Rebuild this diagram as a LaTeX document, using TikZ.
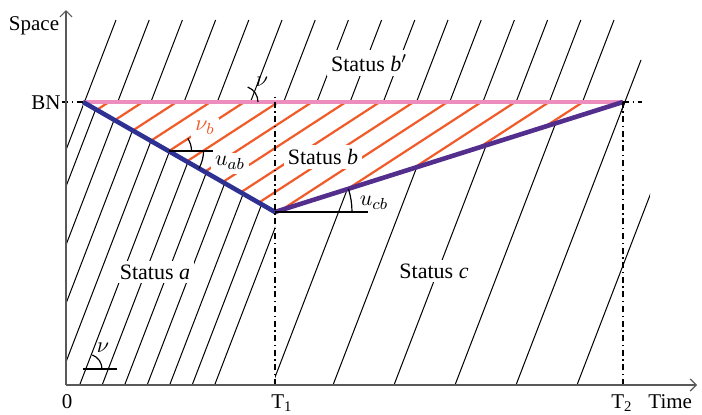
\documentclass[tikz,border=0pt]{standalone}
\usepackage{fontspec}
\setmainfont{Liberation Serif}
\usetikzlibrary{arrows.meta, calc}
\definecolor{bnpink}{RGB}{236,141,190}
\definecolor{shockblue}{RGB}{46,49,146}
\definecolor{shockpurple}{RGB}{84,46,140}
\definecolor{queuered}{RGB}{241,90,41}
\tikzset{
  flowline/.style={black, line width=0.5pt},
  queueline/.style={queuered, line width=1.1pt},
  shock/.style={line width=2.3pt},
  axis/.style={black!65, line width=0.6pt, -{Straight Barb[length=3pt,width=6pt]}},
  dashdot/.style={black, line width=0.8pt, dash pattern=on 3pt off 1.8pt on 0.7pt off 1.8pt},
  status/.style={fill=white, inner sep=2pt, font=\fontsize{11}{13}\selectfont},
  axislabel/.style={inner sep=0pt, font=\fontsize{10.5}{12}\selectfont},
  anglemark/.style={black, line width=0.6pt}
}

\begin{document}
\begin{tikzpicture}[x=0.5pt, y=0.5pt]
        \useasboundingbox (0,0) rectangle (702,414);

        % Puntos principales
        \coordinate (O) at (66,29);
        \coordinate (ytop) at (66,404);
        \coordinate (xend) at (697,29);
        \coordinate (BNL) at (83,312);
        \coordinate (BNR) at (623,312);
        \coordinate (K) at (275,202);
        \coordinate (A) at ($(BNL)!0.4455!(K)$);
        \coordinate (T1b) at (275,29);
        \coordinate (T1t) at (275,318);
        \coordinate (T2b) at (623,29);

        % Trayectorias - estado b'
        \begin{scope}
          \clip (66,414) -- (680,414) -- (680,312) -- (BNL) -- (83,300) -- (66,240) -- cycle;
          \foreach \k in {0,...,15}
            \draw [flowline] ({116+33.2*\k},394) -- ++(-130,-338);
        \end{scope}
        \draw [flowline] (641,354) -- (621,302);

        % Trayectorias - estado a
        \begin{scope}
          \clip (O) -- (66,240) -- (83,300) -- (BNL) -- (K) -- (T1b) -- cycle;
          \foreach \k in {-5,...,6}
            \draw [flowline] ({70.8+22.5*\k},6) -- ++(160,416);
        \end{scope}

        % Trayectorias - estado c
        \begin{scope}
          \clip (K) -- (BNR) -- (650,312) -- (650,146) -- (606,29) -- (T1b) -- cycle;
          \foreach \k in {0,...,5}
            \draw [flowline] ({272+61*\k},29) -- ++(130,338);
        \end{scope}

        % Trayectorias - cola (estado b)
        \begin{scope}
          \clip (BNL) -- (K) -- (BNR) -- cycle;
          \foreach \k in {0,...,14}
            \draw [queueline] ({583-33.86*\k},312) -- ++(-420,-273);
        \end{scope}

        % Etiquetas de estados
        \node (sa) [status] at (155,142) {Status \textit{a}};
        \node (sb) [status] at (323,257) {Status \textit{b}};
        \node (sc) [status] at (434,143) {Status \textit{c}};
        \node (sbp) [status] at (369,351) {Status \textit{b}$'$};
        \node (nub) [status, text=queuered] at (205,286) {$\nu_b$};
        \node (uab) [status] at (230,251) {$u_{ab}$};
        \node (ucb) [status, fill=none] at (374,211) {$u_{cb}$};
        \node (nutop) [status, fill=none] at (262,332) {$\nu$};
        \node (nubot) [status, fill=none] at (103,66) {$\nu$};

        % Ondas de choque
        \draw [shock, bnpink] (BNL) -- (BNR);
        \draw [shock, shockblue] (BNL) -- (K);
        \draw [shock, shockpurple] (K) -- (BNR);

        % Lineas de referencia
        \draw [dashdot] (T1b) -- (T1t);
        \draw [dashdot] (T2b) -- (BNR);
        \draw [dashdot] (62,312) -- (BNL);
        \draw [dashdot] (BNR) -- (642,312);

        % Angulos
        \draw [anglemark] (A) -- ++(44,0);
        \draw [anglemark] ($(A)+(23,0)$) arc[start angle=0, end angle=33, radius=23];
        \draw [anglemark] ($(A)+(35,0)$) arc[start angle=0, end angle=-29.8, radius=35];
        \draw [anglemark] (K) -- ++(93,0);
        \draw [anglemark] ($(K)+(77,0)$) arc[start angle=0, end angle=17.5, radius=77];
        \draw [anglemark] (258,312) arc[start angle=0, end angle=69, radius=16];
        \draw [anglemark] (83,45) -- (117,45);
        \draw [anglemark] (102,45) arc[start angle=0, end angle=69, radius=15];

        % Ejes
        \draw [axis] (O) -- (ytop);
        \draw [axis] (O) -- (xend);
        \node (space) [axislabel, anchor=base] at (34,384) {Space};
        \node (bn) [axislabel, anchor=base east] at (61,305) {BN};
        \node (zero) [axislabel, anchor=base] at (67,6) {0};
        \node (t1) [axislabel, anchor=base west] at (271,6) {T\textsubscript{1}};
        \node (t2) [axislabel, anchor=base west] at (611,6) {T\textsubscript{2}};
        \node (time) [axislabel, anchor=base west] at (648,6) {Time};

\end{tikzpicture}
\end{document}
